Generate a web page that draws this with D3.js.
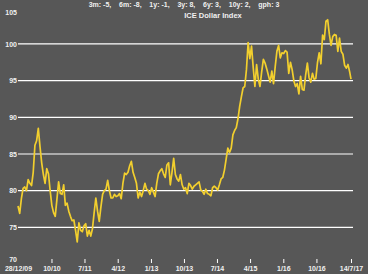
<!DOCTYPE html>
<html>
<head>
<meta charset="utf-8">
<script src="https://cdn.jsdelivr.net/npm/d3@7"></script>
<style>
  body { margin: 0; background: #575757; }
  svg { display: block; }
  text { font-family: "Liberation Sans", Arial, sans-serif; font-weight: bold; fill: #f0f0f0; }
</style>
</head>
<body>
<div id="chart"></div>
<script>
// ICE Dollar Index, sampled every 14 days from 28/12/09, last point 14/7/17
var startDate = new Date(2009, 11, 28);
var endDate = new Date(2017, 6, 14);
var stepDays = 14;
var values = [
  77.9, 76.9, 78.9, 80.3, 80.5, 80.0, 81.5, 81.0, 80.7, 82.5,
  86.2, 86.8, 88.5, 86.0, 83.8, 82.2, 81.0, 83.0, 82.3, 80.0,
  78.0, 77.0, 76.5, 78.8, 81.2, 79.6, 79.5, 80.8, 78.0, 78.3,
  77.2, 76.5, 75.9, 76.0, 74.6, 73.0, 75.6, 74.6, 74.4, 75.2,
  75.5, 73.8, 74.6, 73.8, 74.8, 77.0, 79.0, 77.2, 75.8, 77.8,
  79.5, 80.0, 80.2, 81.4, 80.0, 79.0, 79.0, 79.5, 79.2, 79.3,
  79.6, 78.9, 81.0, 82.4, 82.2, 82.5, 83.4, 84.0, 82.5, 81.8,
  81.0, 79.0, 79.8, 79.2, 80.0, 81.0, 80.2, 80.0, 79.5, 80.4,
  79.8, 79.2, 81.0, 82.3, 82.7, 83.0, 82.3, 81.8, 83.5, 83.8,
  80.8, 82.5, 84.4, 82.2, 81.6, 81.3, 82.2, 80.8, 80.2, 80.4,
  79.6, 81.0, 80.7, 80.2, 80.6, 80.8, 81.0, 81.2, 80.1, 79.9,
  79.5, 80.2, 79.6, 79.5, 79.3, 80.4, 80.6, 80.4, 80.1, 80.8,
  81.6, 81.8, 82.8, 84.3, 85.8, 85.2, 85.8, 87.6, 88.2, 88.6,
  89.8, 91.5, 92.8, 94.0, 94.2, 96.5, 100.2, 98.0, 99.7, 96.8,
  94.2, 97.2, 95.2, 94.2, 96.2, 97.9, 97.4, 96.6, 95.7, 94.8,
  96.3, 94.6, 96.9, 99.0, 99.8, 98.1, 98.8, 98.7, 99.1, 98.9,
  96.0, 97.5, 96.5, 95.0, 94.2, 94.6, 93.2, 95.6, 93.8, 93.7,
  95.8, 97.4, 95.4, 94.8, 96.0, 95.2, 95.3, 97.5, 98.8, 97.3,
  101.2, 100.6, 103.1, 103.3, 101.3, 99.8, 101.0, 101.3, 101.2, 99.0,
  100.8, 99.0, 98.6, 97.1, 96.7, 97.2, 96.2
];
var lastValue = 95.2;

var xTickDates = [
  new Date(2009, 11, 28), new Date(2010, 9, 1), new Date(2011, 6, 1),
  new Date(2012, 3, 1), new Date(2013, 0, 1), new Date(2013, 9, 1),
  new Date(2014, 6, 1), new Date(2015, 3, 1), new Date(2016, 0, 1),
  new Date(2016, 9, 1), new Date(2017, 6, 14)
];
var xTickLabels = ["28/12/09", "10/10", "7/11", "4/12", "1/13", "10/13",
                   "7/14", "4/15", "1/16", "10/16", "14/7/17"];
var yTicks = [70, 75, 80, 85, 90, 95, 100, 105];
var gridValues = [75, 80, 85, 90, 95, 100];
var titleText = "3m: -5,    6m: -8,    1y: -1,    3y: 8,    6y: 3,    10y: 2,    gph: 3";
var subtitleText = "ICE Dollar Index";

var data = values.map(function (v, i) {
  return { date: d3.timeDay.offset(startDate, i * stepDays), value: v };
});
data.push({ date: endDate, value: lastValue });

var width = 368, height = 274;
var svg = d3.select("#chart").append("svg")
  .attr("width", width)
  .attr("height", height);

var x = d3.scaleTime().domain([startDate, endDate]).range([18, 351]);
var y = d3.scaleLinear().domain([70, 105]).range([264, 7.3]);

// gridlines
svg.append("g")
  .selectAll("line")
  .data(gridValues)
  .enter()
  .append("line")
    .attr("x1", 18)
    .attr("x2", 353)
    .attr("y1", function (d) { return y(d); })
    .attr("y2", function (d) { return y(d); })
    .attr("stroke", "#ffffff")
    .attr("stroke-width", 1.2);

// y labels
var yAxis = svg.append("g")
  .attr("transform", "translate(17,0)")
  .call(d3.axisLeft(y).tickValues(yTicks).tickSize(0).tickPadding(0));
yAxis.select(".domain").remove();
yAxis.selectAll("text")
  .style("font-size", "7px")
  .attr("y", function (d) {
    if (d === 105) return 4.5;
    if (d === 70) return -4.5;
    return 0;
  });

// x axis
var xAxis = svg.append("g")
  .attr("transform", "translate(0,259)")
  .call(d3.axisBottom(x)
    .tickValues(xTickDates)
    .tickSize(4)
    .tickPadding(3)
    .tickFormat(function (d, i) { return xTickLabels[i]; }));
xAxis.select(".domain").remove();
xAxis.selectAll(".tick line")
  .attr("stroke", "#ffffff")
  .attr("opacity", function (d, i) { return i === 0 ? 0 : 1; });
xAxis.selectAll("text").style("font-size", "7px");

// series line
var line = d3.line()
  .x(function (d) { return x(d.date); })
  .y(function (d) { return y(d.value); });

svg.append("path")
  .datum(data)
  .attr("d", line)
  .attr("fill", "none")
  .attr("stroke", "#f2cf2e")
  .attr("stroke-width", 1.7)
  .attr("stroke-linejoin", "round");

// titles
svg.append("text")
  .attr("x", 184)
  .attr("y", 6.5)
  .attr("text-anchor", "middle")
  .style("font-size", "7px")
  .style("white-space", "pre")
  .attr("xml:space", "preserve")
  .text(titleText);

svg.append("text")
  .attr("x", 213)
  .attr("y", 18)
  .attr("text-anchor", "middle")
  .style("font-size", "7.5px")
  .text(subtitleText);
</script>
</body>
</html>
